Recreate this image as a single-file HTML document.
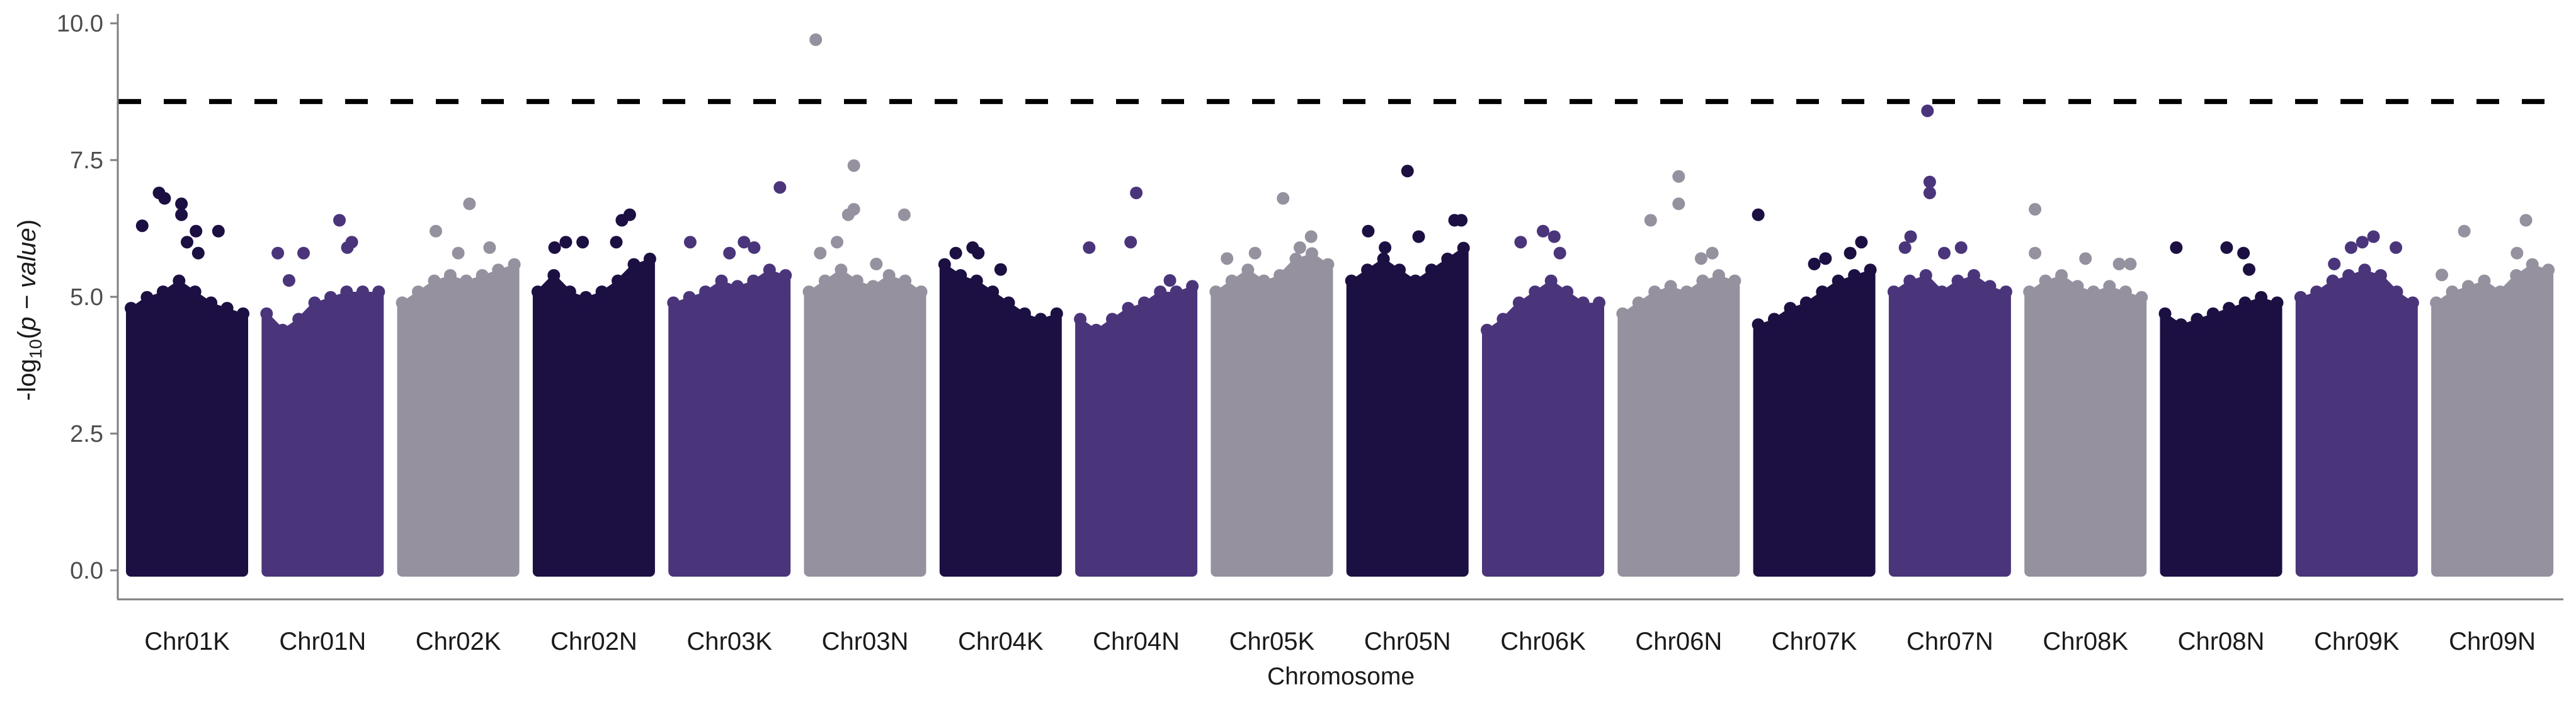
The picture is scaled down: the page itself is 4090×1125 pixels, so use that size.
<!DOCTYPE html>
<html><head><meta charset="utf-8"><style>
html,body{margin:0;padding:0;background:#fff;}
svg{display:block;font-family:"Liberation Sans",sans-serif;}
</style></head><body>
<svg id="chart" width="4090" height="1125" viewBox="0 0 4090 1125" xmlns="http://www.w3.org/2000/svg">
<g id="marks"></g>
<g id="axes"></g>
</svg>
<script>
const categories = ["Chr01K","Chr01N","Chr02K","Chr02N","Chr03K","Chr03N","Chr04K","Chr04N","Chr05K","Chr05N","Chr06K","Chr06N","Chr07K","Chr07N","Chr08K","Chr08N","Chr09K","Chr09N"];
const envelopes = [
 [4.7,4.9,5.0,5.2,5.0,4.8,4.7,4.6],
 [4.6,4.3,4.5,4.8,4.9,5.0,5.0,5.0],
 [4.8,5.0,5.2,5.3,5.2,5.3,5.4,5.5],
 [5.0,5.3,5.0,4.9,5.0,5.2,5.5,5.6],
 [4.8,4.9,5.0,5.2,5.1,5.2,5.4,5.3],
 [5.0,5.2,5.4,5.2,5.1,5.3,5.2,5.0],
 [5.5,5.3,5.2,5.0,4.8,4.6,4.5,4.6],
 [4.5,4.3,4.5,4.7,4.8,5.0,5.0,5.1],
 [5.0,5.2,5.4,5.2,5.3,5.6,5.7,5.5],
 [5.2,5.4,5.6,5.4,5.2,5.4,5.6,5.8],
 [4.3,4.5,4.8,5.0,5.2,5.0,4.8,4.8],
 [4.6,4.8,5.0,5.1,5.0,5.2,5.3,5.2],
 [4.4,4.5,4.7,4.8,5.0,5.2,5.3,5.4],
 [5.0,5.2,5.3,5.0,5.2,5.3,5.1,5.0],
 [5.0,5.2,5.3,5.1,5.0,5.1,5.0,4.9],
 [4.6,4.4,4.5,4.6,4.7,4.8,4.9,4.8],
 [4.9,5.0,5.2,5.3,5.4,5.3,5.0,4.8],
 [4.8,5.0,5.1,5.2,5.0,5.3,5.5,5.4]
];
const peakPos = [
 [0.1,0.25,0.3,0.45,0.45,0.58,0.78,0.6,0.5],
 [0.1,0.33,0.65,0.72,0.76,0.2],
 [0.3,0.6,0.78,0.5],
 [0.15,0.25,0.4,0.75,0.82,0.7],
 [0.15,0.5,0.63,0.72,0.95],
 [0.06,0.1,0.25,0.35,0.4,0.4,0.85,0.6],
 [0.1,0.25,0.3,0.5],
 [0.08,0.45,0.5,0.8],
 [0.1,0.35,0.6,0.75,0.85],
 [0.15,0.5,0.6,0.92,0.98,0.3],
 [0.3,0.5,0.6,0.65],
 [0.25,0.5,0.5,0.8,0.7],
 [0.5,0.6,0.82,0.92,0.0],
 [0.1,0.3,0.32,0.32,0.6,0.45,0.15],
 [0.05,0.05,0.5,0.8,0.9],
 [0.1,0.55,0.7,0.75],
 [0.45,0.55,0.65,0.85,0.3],
 [0.25,0.8,0.72,0.05]
];
const peakVal = [
 [6.3,6.9,6.8,6.7,6.5,6.2,6.2,5.8,6.0],
 [5.8,5.8,6.4,5.9,6.0,5.3],
 [6.2,6.7,5.9,5.8],
 [5.9,6.0,6.0,6.4,6.5,6.0],
 [6.0,5.8,6.0,5.9,7.0],
 [9.7,5.8,6.0,6.5,7.4,6.6,6.5,5.6],
 [5.8,5.9,5.8,5.5],
 [5.9,6.0,6.9,5.3],
 [5.7,5.8,6.8,5.9,6.1],
 [6.2,7.3,6.1,6.4,6.4,5.9],
 [6.0,6.2,6.1,5.8],
 [6.4,7.2,6.7,5.8,5.7],
 [5.6,5.7,5.8,6.0,6.5],
 [5.9,8.4,7.1,6.9,5.9,5.8,6.1],
 [6.6,5.8,5.7,5.6,5.6],
 [5.9,5.9,5.8,5.5],
 [5.9,6.0,6.1,5.9,5.6],
 [6.2,6.4,5.8,5.4]
];
const yTicks = [0, 2.5, 5.0, 7.5, 10.0];
const yTickLabels = ["0.0","2.5","5.0","7.5","10.0"];
const threshold = 8.57;

const NS="http://www.w3.org/2000/svg";
const colors=["#1c0f42","#4a357b","#95919f"];
const X0=188, X1=4070, firstC=297, step=215.3, halfW=89;
function yScale(v){return 905-v*86.8;}
function xCenter(i){return firstC+i*step;}
function mk(tag,attrs,parent){const e=document.createElementNS(NS,tag);for(const k in attrs)e.setAttribute(k,attrs[k]);parent.appendChild(e);return e;}
const marks=document.getElementById('marks'), axes=document.getElementById('axes');

categories.forEach((c,i)=>{
  const col=colors[i%3], cx=xCenter(i), x0=cx-halfW, w=2*halfW;
  const g=mk('g',{},marks);
  
  
  const env=envelopes[i];
  let d='M'+x0+','+(yScale(0)+2);
  env.forEach((v,k)=>{const x=x0+w*k/(env.length-1);d+=' L'+x.toFixed(1)+','+yScale(v).toFixed(1);});
  d+=' L'+(x0+w)+','+(yScale(0)+2)+' Z';
  const body=mk('path',{d:d,fill:col,'stroke':col,'stroke-width':16,'stroke-linejoin':'round'},g);
  
  
  env.forEach((v,k)=>{
    const x=x0+w*k/(env.length-1);
    const bd=mk('circle',{cx:x.toFixed(1),cy:(yScale(v)-8).toFixed(1),r:10,fill:col},g);
    
    
  });
  peakPos[i].forEach((p,k)=>{
    const dot=mk('circle',{cx:(x0+w*p).toFixed(1),cy:yScale(peakVal[i][k]).toFixed(1),r:10,fill:col},g);
    
    
  });
  const lab=mk('text',{x:cx,y:1031,'text-anchor':'middle','font-size':40,fill:'#1a1a1a'},axes);
  lab.textContent=c;
  
  
});

const thr=mk('line',{x1:X0,x2:X1,y1:yScale(threshold),y2:yScale(threshold),stroke:'#000','stroke-width':8,'stroke-dasharray':'36 36'},marks);



const ya=mk('line',{x1:187,x2:187,y1:22,y2:951,stroke:'#7f7f7f','stroke-width':3},axes);


const xa=mk('line',{x1:186,x2:X1,y1:951,y2:951,stroke:'#7f7f7f','stroke-width':3},axes);


yTicks.forEach((v,k)=>{
  const t=mk('line',{x1:175,x2:187,y1:yScale(v),y2:yScale(v),stroke:'#7f7f7f','stroke-width':3},axes);
  
  
  const l=mk('text',{x:164,y:yScale(v)+13,'text-anchor':'end','font-size':38,fill:'#4d4d4d'},axes);
  l.textContent=yTickLabels[k];
  
  
});
</script>
<div style="position:absolute;left:0;top:0;width:4090px;height:1125px;pointer-events:none">
<svg width="4090" height="1125" style="font-family:'Liberation Sans',sans-serif">
<text x="2129" y="1086" text-anchor="middle" font-size="39" fill="#1a1a1a">Chromosome</text>
<text transform="translate(56,492) rotate(-90)" text-anchor="middle" font-size="40" fill="#1a1a1a">-log<tspan font-size="28" dy="10">10</tspan><tspan dy="-10">(</tspan><tspan font-style="italic">p − value</tspan>)</text>
</svg></div>
</body></html>
